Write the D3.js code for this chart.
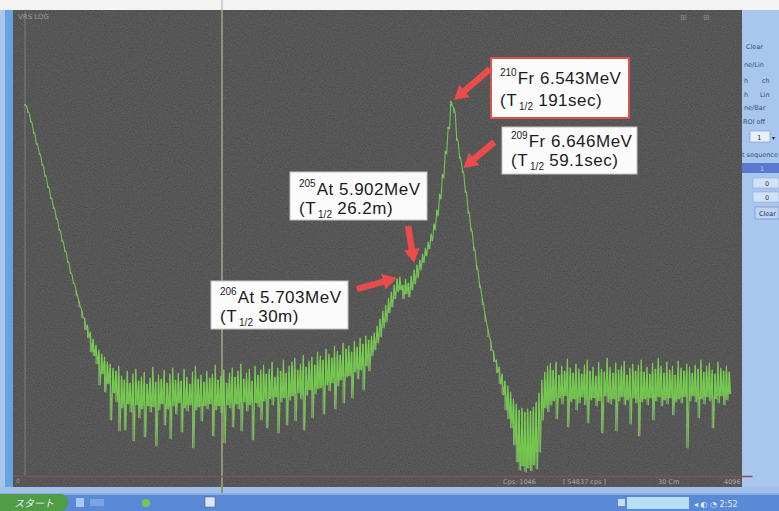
<!DOCTYPE html>
<html><head><meta charset="utf-8">
<script src="https://cdn.jsdelivr.net/npm/d3@7"></script>
<style>html,body{margin:0;padding:0;background:#fff;overflow:hidden}svg{display:block}</style>
</head><body>
<svg id="c" width="779" height="511"></svg>
<script>
// ---- DATA (spectrum, 16-channel bins; envelope of the noisy trace per bin) ----
const channels = d3.range(0, 3969, 16);
const countsHigh = [
 372,365,355,344,333,323,312,301,290,279,269,258,247,236,226,215,204,194,
 185,175,166,158,151,144,137,131,126,122,119,114,112,108,105,110,
 100,96,105,93,102,107,95,99,104,92,
 98,109,94,101,97,106,93,102,108,96,
 103,95,107,99,92,104,110,97,101,94,
 105,98,102,111,96,100,106,93,103,108,
 99,105,112,97,103,107,95,110,101,106,
 111,102,107,114,99,108,105,116,103,110,
 114,118,106,112,121,109,115,119,111,124,
 120,116,127,122,118,130,125,121,133,127,
 130,124,135,129,138,132,140,136,
 140,143,150,157,165,171,178,184,191,197,199,
 191,197,193,200,206,211,216,222,228,234,242,252,266,282,302,325,349,375,
 368,338,320,306,286,266,248,229,211,193,177,161,147,135,125,116,109,102,95,90,84,77,72,66,68,64,67,65,69,74,83,96,104,110,113,
 106,114,101,110,105,117,108,103,112,107,102,111,116,105,109,100,114,107,104,118,
 109,103,113,106,110,115,101,108,112,105,111,116,104,109,102,113,107,118,110,103,
 114,106,110,101,115,108,105,112,109,103,111,107,116,104,110,113,106,102,114,108,105,110,104
];
const countsLow = [
 370,363,353,342,331,321,310,299,288,277,267,256,245,234,224,213,202,192,
 180,169,158,146,138,124,120,112,91,102,84,92,56,83,74,45,
 68,46,72,64,35,71,58,67,39,70,
 64,69,30,66,72,51,67,37,70,62,
 73,44,68,65,71,28,66,69,55,70,
 67,72,40,66,70,63,33,71,68,49,
 72,67,45,74,65,71,36,73,69,56,
 75,48,77,71,79,43,74,78,51,76,
 80,55,83,77,46,81,86,58,82,87,
 88,62,91,85,93,67,90,96,73,99,
 100,78,104,97,106,86,110,105,
 120,126,133,139,148,154,163,169,177,184,186,
 177,182,179,186,192,198,206,213,220,227,235,246,260,277,298,322,347,370,
 363,335,317,303,283,262,244,225,206,188,171,154,139,125,114,103,92,81,66,57,48,31,14,6,10,4,8,5,11,7,24,56,68,64,71,
 75,57,78,72,80,49,74,77,66,73,79,71,53,76,78,70,75,43,80,74,
 72,77,45,75,79,71,76,52,78,73,40,74,77,71,78,56,75,79,70,76,
 72,78,61,74,77,73,79,28,75,80,74,58,77,72,79,75,48,77,73,80,71,76,82
];
// annotated peaks
const peakMass    = ["210", "209", "205", "206"];
const peakElement = ["Fr", "Fr", "At", "At"];
const peakEnergy  = ["6.543MeV", "6.646MeV", "5.902MeV", "5.703MeV"];
const peakHalf    = ["191sec)", "59.1sec)", "26.2m)", "30m)"];
const peakChannel = [2400, 2464, 2192, 2112];
const statusTexts = ["Cps: 1046", "[ 54837 cps ]", "30 Cm", "4096"];

// ---- LAYOUT ----
const W = 779, H = 511;
const svg = d3.select('#c');
const defs = svg.append('defs');
const f = defs.append('filter').attr('id','grain').attr('x',0).attr('y',0).attr('width','100%').attr('height','100%');
f.append('feTurbulence').attr('type','fractalNoise').attr('baseFrequency',0.7).attr('numOctaves',2).attr('seed',7).attr('result','n');
f.append('feColorMatrix').attr('in','n').attr('type','matrix')
 .attr('values','1 0 0 0 0  1 0 0 0 0  1 0 0 0 0  0 0 0 0 0.16');
defs.append('clipPath').attr('id','pclip').append('rect').attr('x',13).attr('y',11).attr('width',728).attr('height',466);
const soft = defs.append('filter').attr('id','soft');
soft.append('feGaussianBlur').attr('stdDeviation',0.35);

svg.append('rect').attr('width',W).attr('height',H).attr('fill','#f3f3f1');
// left blue strip
svg.append('rect').attr('x',0).attr('y',10).attr('width',5).attr('height',483).attr('fill','#a9c6ea');
svg.append('rect').attr('x',5).attr('y',10).attr('width',8).attr('height',483).attr('fill','#68a2e0');
// plot background
svg.append('rect').attr('x',13).attr('y',10).attr('width',729).attr('height',477).attr('fill','#434343');
svg.append('rect').attr('x',13).attr('y',10).attr('width',729).attr('height',477).attr('filter','url(#grain)');
// right control panel
svg.append('rect').attr('x',742).attr('y',10).attr('width',37).attr('height',483).attr('fill','#a8c6ee');
// bottom strip + taskbar
svg.append('rect').attr('x',0).attr('y',487).attr('width',W).attr('height',6).attr('fill','#a2c0ea');
svg.append('rect').attr('x',0).attr('y',493).attr('width',W).attr('height',18).attr('fill','#5a8ad6');
svg.append('rect').attr('x',0).attr('y',493).attr('width',W).attr('height',2).attr('fill','#86aeea');

const x = d3.scaleLinear().domain([0, 4096]).range([25, 752]);
const y = d3.scaleLinear().domain([0, 465]).range([476, 11]);

// cursor line and left boundary
svg.append('line').attr('x1',222).attr('x2',222).attr('y1',0).attr('y2',10).attr('stroke','#cfcfc8').attr('stroke-width',2);
svg.append('line').attr('x1',222).attr('x2',222).attr('y1',10).attr('y2',493).attr('stroke','#8d9470').attr('stroke-width',2);
svg.append('line').attr('x1',x(0)).attr('x2',x(0)).attr('y1',11).attr('y2',476).attr('stroke','#8c8c8c').attr('stroke-width',1).attr('opacity',0.7);

// x axis (baseline only)
const ax = svg.append('g').attr('transform','translate(0,476)')
 .call(d3.axisBottom(x).tickValues([]).tickSizeOuter(0));
ax.select('.domain').attr('stroke','#85505e').attr('stroke-width',1.3);
svg.append('line').attr('x1',13).attr('x2',25).attr('y1',476).attr('y2',476).attr('stroke','#85505e').attr('stroke-width',1.3);

// ---- TRACE ----
const bins = channels.map((c,i)=>({c, hi: countsHigh[i], lo: countsLow[i]}));
const trace = svg.append('g').attr('clip-path','url(#pclip)').attr('filter','url(#soft)');
// pale full-extent spikes
trace.selectAll('line.bin').data(bins).join('line').attr('class','bin')
 .attr('x1',d=>x(d.c)).attr('x2',d=>x(d.c)).attr('y1',d=>y(d.hi)).attr('y2',d=>y(d.lo))
 .attr('stroke','#a9d495').attr('stroke-width',0.9).attr('opacity',0.75);
// dense core (overlap of neighbouring bins)
const core = bins.map((b,i)=>{
  const p = bins[Math.max(0,i-1)], n = bins[Math.min(bins.length-1,i+1)];
  return {c:b.c, top: Math.min(p.hi,b.hi,n.hi), bot: Math.max(p.lo,b.lo,n.lo)};
}).filter(d=>d.top > d.bot + 2);
trace.selectAll('line.core').data(core).join('line').attr('class','core')
 .attr('x1',d=>x(d.c)).attr('x2',d=>x(d.c)).attr('y1',d=>y(d.top)).attr('y2',d=>y(d.bot))
 .attr('stroke','#70c848').attr('stroke-width',1.6).attr('opacity',0.85);
// sawtooth trace
const zz = [];
bins.forEach(b=>{ zz.push([x(b.c), y(b.hi)]); zz.push([x(b.c+8), y(b.lo)]); });
trace.append('path').attr('d', d3.line()(zz)).attr('fill','none')
 .attr('stroke','#78cf50').attr('stroke-width',1.1).attr('stroke-linejoin','round').attr('opacity',0.9);

// ---- ANNOTATIONS ----
const boxes = [
 {bx:491,by:58,bw:138,bh:60,stroke:'#d9534f',sw:2,l1:84,l2:106,tip:[3,-1],tail:[36,-31]},
 {bx:502,by:127,bw:135,bh:47,stroke:'#c4c4c4',sw:1,l1:146.5,l2:166,tip:[1,-2],tail:[31,-26]},
 {bx:290,by:172,bw:137,bh:48,stroke:'#c4c4c4',sw:1,l1:194.5,l2:214,tip:[0,-7],tail:[-6,-37]},
 {bx:211,by:281,bw:137,bh:48,stroke:'#c4c4c4',sw:1,l1:302.5,l2:322,tip:[-3,1],tail:[-40,11]}
];
const ann = svg.append('g').attr('font-family','"Liberation Sans", Arial, sans-serif').attr('fill','#1c1c1c');
boxes.forEach((b,k)=>{
  ann.append('rect').attr('x',b.bx).attr('y',b.by).attr('width',b.bw).attr('height',b.bh)
    .attr('fill','#fbfbfb').attr('stroke',b.stroke).attr('stroke-width',b.sw);
  const t1 = ann.append('text').attr('x',b.bx+9).attr('y',b.l1).attr('font-size',17).attr('letter-spacing',0.5);
  t1.append('tspan').attr('font-size',10).attr('letter-spacing',0).attr('dy',-8).text(peakMass[k]);
  t1.append('tspan').attr('dy',8).attr('dx',1).text(peakElement[k]+' '+peakEnergy[k]);
  const t2 = ann.append('text').attr('x',b.bx+9).attr('y',b.l2).attr('font-size',17).attr('letter-spacing',0.5);
  t2.append('tspan').text('(T');
  t2.append('tspan').attr('font-size',10).attr('letter-spacing',0).attr('dy',4).attr('dx',2).text('1/2');
  t2.append('tspan').attr('dy',-4).text(' '+peakHalf[k]);
  // arrow anchored on the data bin
  const i = channels.indexOf(peakChannel[k]);
  const tx = x(channels[i]) + b.tip[0], ty = y(countsHigh[i]) + b.tip[1];
  const sx = tx + b.tail[0], sy = ty + b.tail[1];
  const dx = tx-sx, dy = ty-sy, len = Math.hypot(dx,dy);
  const ux = dx/len, uy = dy/len, nx = -uy, ny = ux;
  const L = 14, HW = 8, SW = 3.2;
  const bxp = tx-ux*L, byp = ty-uy*L;
  const poly = [[sx+nx*SW,sy+ny*SW],[bxp+nx*SW,byp+ny*SW],[bxp+nx*HW,byp+ny*HW],[tx,ty],
                [bxp-nx*HW,byp-ny*HW],[bxp-nx*SW,byp-ny*SW],[sx-nx*SW,sy-ny*SW]];
  svg.append('path').attr('d','M'+poly.map(p=>p.join(',')).join('L')+'Z').attr('fill','#ea4b4b');
});

// ---- SCREEN DECORATION TEXT ----
const ui = svg.append('g').attr('font-family','"DejaVu Sans", sans-serif');
ui.append('text').attr('x',18).attr('y',19).attr('font-size',7).attr('fill','#9a9a9a').text('VRS LOG');
ui.append('text').attr('x',680).attr('y',20).attr('font-size',8).attr('fill','#8a8a8a').text('⊞');
ui.append('text').attr('x',703).attr('y',20).attr('font-size',8).attr('fill','#8a8a8a').text('⊞');
ui.append('text').attr('x',16).attr('y',483).attr('font-size',6).attr('fill','#9a9a9a').text('0');
const statusX = [503, 563, 658, 724];
statusTexts.forEach((s,i)=> ui.append('text').attr('x',statusX[i]).attr('y',484).attr('font-size',6.5).attr('fill','#a8a8a8').text(s));

// right panel
const pnl = [["Clear",746,49],["ne/Lin",744,67],["h",744,83],["ch",762,83],["h",744,97],["Lin",760,97],["ne/Bar",744,110],["ROI off",743,124],["t sequence",742,157]];
pnl.forEach(p=>ui.append('text').attr('x',p[1]).attr('y',p[2]).attr('font-size',6.5).attr('fill','#3e4f78').text(p[0]));
ui.append('rect').attr('x',750).attr('y',131).attr('width',20).attr('height',11).attr('fill','#e8f0fa').attr('stroke','#7f96c0').attr('stroke-width',0.6);
ui.append('text').attr('x',757).attr('y',140).attr('font-size',7).attr('fill','#334').text('1');
ui.append('text').attr('x',772).attr('y',140).attr('font-size',6).attr('fill','#223').text('▾');
ui.append('rect').attr('x',742).attr('y',163).attr('width',37).attr('height',10).attr('fill','#5a78cf');
ui.append('text').attr('x',760).attr('y',171).attr('font-size',6.5).attr('fill','#c8d4f0').text('1');
[[753,178],[753,192]].forEach(r=>{
  ui.append('rect').attr('x',r[0]).attr('y',r[1]).attr('width',26).attr('height',10).attr('fill','#cfe2f8').attr('stroke','#8aa2cc').attr('stroke-width',0.5);
  ui.append('text').attr('x',r[0]+12).attr('y',r[1]+8).attr('font-size',6.5).attr('fill','#445').text('0');
});
ui.append('rect').attr('x',755).attr('y',207).attr('width',24).attr('height',12).attr('fill','#bcd3f2').attr('stroke','#6f88b8').attr('stroke-width',0.6);
ui.append('text').attr('x',759).attr('y',216).attr('font-size',6.5).attr('fill','#334').text('Clear');

// taskbar
svg.append('path').attr('d','M0,494 H60 Q68,494 68,502 Q68,511 60,511 H0 Z').attr('fill','#4f9d45');
svg.append('text').attr('x',14).attr('y',507).attr('font-family','"Noto Sans CJK JP", sans-serif').attr('font-size',10).attr('font-style','italic').attr('fill','#eef').text('スタート');
svg.append('rect').attr('x',76).attr('y',498).attr('width',8).attr('height',9).attr('fill','#a9c8f0');
svg.append('rect').attr('x',90).attr('y',499).attr('width',14).attr('height',7).attr('fill','#7ea3e2');
svg.append('circle').attr('cx',146).attr('cy',503).attr('r',4).attr('fill','#7cc35a');
svg.append('rect').attr('x',205).attr('y',497).attr('width',10).attr('height',10).attr('fill','#dbe7f6').attr('stroke','#456').attr('stroke-width',0.5);
svg.append('rect').attr('x',618).attr('y',499).attr('width',7).attr('height',7).attr('fill','#c9dcf5');
svg.append('rect').attr('x',627).attr('y',497).attr('width',62).attr('height',12).attr('fill','#b5e0f6');
svg.append('text').attr('x',694).attr('y',507).attr('font-family','"DejaVu Sans", sans-serif').attr('font-size',8).attr('fill','#e6eefc').text('◂ ◐ ◔  2:52');
</script>
</body></html>
